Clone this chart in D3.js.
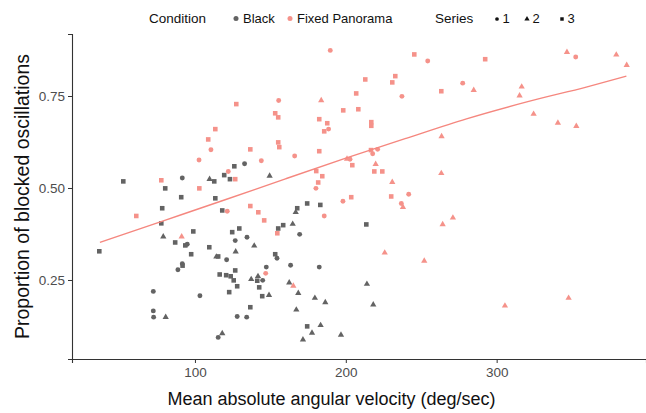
<!DOCTYPE html>
<html>
<head>
<meta charset="utf-8">
<script src="https://cdn.jsdelivr.net/npm/d3@7"></script>
<style>
  body { margin: 0; background: #fff; }
  svg { display: block; font-family: "Liberation Sans", Arial, Helvetica, sans-serif; }
</style>
</head>
<body>
<svg id="chart" width="646" height="413"></svg>
<script>
// [velocity, proportion] per condition / series
const blackSeries1 = [
  [91.6, 0.527], [94.9, 0.347], [91.6, 0.294], [88.7, 0.278], [72.4, 0.219], [103.3, 0.207],
  [72.4, 0.166], [72.6, 0.149], [115.4, 0.094], [132.9, 0.566], [169.4, 0.374], [134.5, 0.366],
  [126.7, 0.357], [121.0, 0.305], [154.4, 0.309], [147.3, 0.285], [163.4, 0.290], [182.4, 0.285],
  [144.9, 0.249], [128.0, 0.151], [134.3, 0.149]
];
const blackSeries2 = [
  [109.7, 0.524], [79.0, 0.368], [114.2, 0.313], [80.6, 0.149], [149.5, 0.533], [166.8, 0.434],
  [164.8, 0.402], [139.3, 0.343], [127.0, 0.327], [137.3, 0.252], [141.8, 0.260], [162.5, 0.243],
  [168.5, 0.214], [149.1, 0.209], [179.5, 0.201], [186.4, 0.189], [167.2, 0.169], [183.3, 0.127],
  [177.6, 0.106], [196.8, 0.101], [171.6, 0.088], [118.1, 0.105], [214.0, 0.239], [218.2, 0.183]
];
const blackSeries3 = [
  [52.5, 0.518], [112.8, 0.518], [80.3, 0.499], [90.9, 0.475], [113.5, 0.472], [78.3, 0.445],
  [77.7, 0.404], [98.9, 0.382], [86.9, 0.352], [93.6, 0.344], [109.5, 0.339], [97.5, 0.320],
  [91.8, 0.289], [116.4, 0.265], [36.6, 0.328], [126.1, 0.559], [119.4, 0.535], [123.2, 0.524],
  [118.1, 0.439], [174.4, 0.458], [183.1, 0.454], [167.8, 0.445], [158.5, 0.399], [155.2, 0.390],
  [129.4, 0.390], [124.7, 0.380], [115.4, 0.314], [153.2, 0.320], [126.7, 0.276], [120.7, 0.263],
  [123.7, 0.260], [125.7, 0.249], [141.3, 0.248], [128.0, 0.233], [142.6, 0.230], [122.7, 0.217],
  [144.6, 0.206], [136.7, 0.176], [174.4, 0.124], [213.6, 0.401]
];
const panoSeries1 = [
  [110.6, 0.604], [102.7, 0.576], [189.7, 0.874], [155.5, 0.738], [188.6, 0.660], [166.1, 0.587],
  [144.0, 0.574], [122.1, 0.545], [180.2, 0.499], [121.4, 0.437], [198.1, 0.464], [185.7, 0.424],
  [146.9, 0.268], [254.3, 0.845], [277.5, 0.785], [237.2, 0.749], [221.1, 0.605], [217.8, 0.593],
  [202.8, 0.578], [241.7, 0.483], [236.8, 0.458], [352.4, 0.856]
];
const panoSeries2 = [
  [91.2, 0.368], [183.7, 0.738], [200.8, 0.579], [165.2, 0.234], [284.8, 0.766], [263.5, 0.640],
  [219.8, 0.565], [263.3, 0.540], [230.8, 0.516], [237.9, 0.448], [271.0, 0.419], [264.2, 0.401],
  [225.8, 0.324], [252.0, 0.302], [346.6, 0.869], [379.3, 0.862], [386.2, 0.834], [316.6, 0.775],
  [315.2, 0.751], [324.5, 0.701], [340.6, 0.677], [352.8, 0.668], [305.5, 0.180], [347.7, 0.201]
];
const panoSeries3 = [
  [113.5, 0.660], [108.8, 0.632], [77.7, 0.521], [102.9, 0.499], [61.1, 0.424], [127.4, 0.728],
  [198.3, 0.711], [153.2, 0.703], [155.2, 0.692], [182.4, 0.687], [187.7, 0.676], [185.7, 0.654],
  [155.2, 0.624], [155.9, 0.611], [136.7, 0.605], [182.4, 0.600], [126.7, 0.524], [180.4, 0.546],
  [184.4, 0.532], [181.7, 0.515], [136.7, 0.451], [142.0, 0.434], [145.9, 0.412], [154.6, 0.377],
  [245.4, 0.863], [292.4, 0.850], [212.9, 0.795], [232.8, 0.804], [230.8, 0.787], [206.9, 0.757],
  [263.3, 0.763], [208.3, 0.714], [216.9, 0.679], [216.9, 0.669], [216.7, 0.603], [204.3, 0.562],
  [218.9, 0.545], [224.2, 0.545], [203.6, 0.475], [230.1, 0.477]
];

// fitted trend
const smoothX = [37, 80, 120, 160, 200, 240, 280, 320, 360, 386];
const smoothY = [0.352, 0.412, 0.468, 0.525, 0.581, 0.635, 0.688, 0.734, 0.775, 0.804];

const xTicks = [100, 200, 300];
const yTicks = [0.25, 0.5, 0.75];
const conditions = ['Black', 'Fixed Panorama'];
const seriesNames = ['1', '2', '3'];

const colors = { 'Black': '#636363', 'Fixed Panorama': '#f5928a' };
const shapes = { '1': d3.symbolCircle, '2': d3.symbolTriangle, '3': d3.symbolSquare };
const sizes = { '1': 19, '2': 17, '3': 21 };

const groups = [
  { condition: 'Black', series: '1', values: blackSeries1 },
  { condition: 'Black', series: '2', values: blackSeries2 },
  { condition: 'Black', series: '3', values: blackSeries3 },
  { condition: 'Fixed Panorama', series: '1', values: panoSeries1 },
  { condition: 'Fixed Panorama', series: '2', values: panoSeries2 },
  { condition: 'Fixed Panorama', series: '3', values: panoSeries3 }
];

const svg = d3.select('#chart');

const xScale = d3.scaleLinear().domain([18.5, 399]).range([72, 646]);
const yScale = d3.scaleLinear().domain([0.0353, 0.9185]).range([359, 34]);

// axes
const xAxis = svg.append('g')
  .attr('transform', 'translate(0,359)')
  .call(d3.axisBottom(xScale).tickValues(xTicks).tickSize(4).tickPadding(4).tickFormat(d3.format('d')));
const yAxis = svg.append('g')
  .attr('transform', 'translate(72,0)')
  .call(d3.axisLeft(yScale).tickValues(yTicks).tickSize(4).tickPadding(3).tickFormat(d3.format('.2f')));

[xAxis, yAxis].forEach(ax => {
  ax.select('.domain').attr('stroke', '#333').attr('stroke-width', 1.1);
  ax.selectAll('.tick line').attr('stroke', '#333');
  ax.selectAll('.tick text')
    .attr('fill', '#4d4d4d')
    .style('font-size', '13.5px')
    .style('font-family', '"Liberation Sans", Arial, sans-serif');
});

// points
groups.forEach(g => {
  svg.append('g')
    .selectAll('path')
    .data(g.values)
    .join('path')
    .attr('transform', d => `translate(${xScale(d[0])},${yScale(d[1])})`)
    .attr('d', d3.symbol().type(shapes[g.series]).size(sizes[g.series]))
    .attr('fill', colors[g.condition]);
});

// trend line
const line = d3.line()
  .x(d => xScale(d[0]))
  .y(d => yScale(d[1]))
  .curve(d3.curveMonotoneX);
svg.append('path')
  .datum(smoothX.map((x, i) => [x, smoothY[i]]))
  .attr('d', line)
  .attr('fill', 'none')
  .attr('stroke', '#f5877f')
  .attr('stroke-width', 1.4);

// axis titles
svg.append('text')
  .attr('x', 331.5).attr('y', 405)
  .attr('text-anchor', 'middle')
  .style('font-size', '18px')
  .attr('fill', '#111')
  .text('Mean absolute angular velocity (deg/sec)');
svg.append('text')
  .attr('transform', 'translate(29,196.5) rotate(-90)')
  .attr('text-anchor', 'middle')
  .style('font-size', '19.5px')
  .attr('fill', '#111')
  .text('Proportion of blocked oscillations');

// legend
const legend = svg.append('g').style('font-size', '13px').attr('fill', '#111');
legend.append('text').attr('x', 149).attr('y', 23).style('font-size', '13.5px').text('Condition');
const condX = [236, 290];
conditions.forEach((c, i) => {
  legend.append('circle').attr('cx', condX[i]).attr('cy', 18.5).attr('r', 2.5).attr('fill', colors[c]);
  legend.append('text').attr('x', condX[i] + 7).attr('y', 23).text(c);
});
legend.append('text').attr('x', 435).attr('y', 23).style('font-size', '13.5px').text('Series');
const serX = [497, 527, 562];
seriesNames.forEach((s, i) => {
  legend.append('path')
    .attr('transform', `translate(${serX[i]},19)`)
    .attr('d', d3.symbol().type(shapes[s]).size(s === '1' ? 11 : 12))
    .attr('fill', '#111');
  legend.append('text').attr('x', serX[i] + 5.5).attr('y', 23).text(s);
});
</script>
</body>
</html>
